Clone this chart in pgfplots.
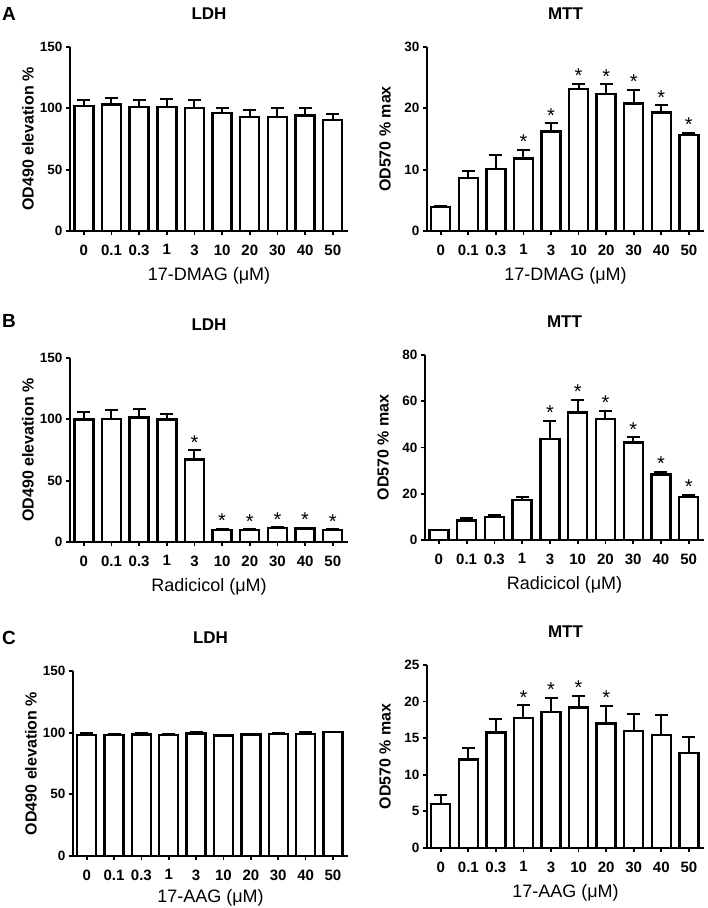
\documentclass[border=0pt]{standalone}
\usepackage{pgfplots}
\pgfplotsset{compat=1.18}
\usepackage{pgfplotstable}
\usepackage{fontspec}
\setmainfont{Liberation Sans}

% x = category index (0 ... 50 uM), ldh/mtt = mean, *e = SEM (upper only)
\pgfplotstableread{
x ldh  ldhe mtt   mtte
0 102  5    3.9   0.2
1 103  5.5  8.6   1.2
2 101  6    10.1  2.3
3 101  7    11.85 1.4
4 100.5 6.5 16.25 1.3
5 96   4.5  23.15 0.8
6 93   6    22.3  1.6
7 93   7    20.8  2.2
8 94   6    19.3  1.2
9 90.5 5    15.65 0.4
}\dataA
\pgfplotstableread{
x ldh  ldhe mtt  mtte
0 100  5.7  4.3  0.2
1 100.5 7   8.5  1.2
2 101.5 7   9.9  0.9
3 100  4    17.4 1.0
4 67.4 7.3  43.8 7.8
5 9.8  0.8  55.1 5.4
6 9.8  0.5  52.2 3.6
7 11.4 0.6  42.1 2.3
8 11.0 0.6  28.4 1.1
9 9.8  0.5  18.7 0.8
}\dataB
\pgfplotstableread{
x ldh  ldhe mtt   mtte
0 98.1 2    6.05  1.2
1 98   1    12.1  1.5
2 98.4 1.6  15.8  1.8
3 98.1 0.6  17.8  1.7
4 99.2 1    18.6  1.9
5 97.6 0.6  19.2  1.6
6 98.6 0.6  17.0  2.4
7 98.9 0.7  16.0  2.3
8 99   1.2  15.45 2.7
9 100.5 0.3 12.95 2.2
}\dataC
% significance marks, placed at the top of the error bar
\pgfplotstableread{
x y
3 13.25
4 17.55
5 23.95
6 23.9
7 23.0
8 20.5
9 16.05
}\starAm
\pgfplotstableread{
x y
4 74.7
5 10.6
6 10.3
7 12.0
8 11.6
9 10.3
}\starBl
\pgfplotstableread{
x y
4 51.6
5 60.5
6 55.8
7 44.4
8 29.5
9 19.5
}\starBm
\pgfplotstableread{
x y
3 19.5
4 20.5
5 20.8
6 19.4
}\starCm

\pgfplotsset{
  panel/.style={
    scale only axis, anchor=south west, clip=false,
    axis x line=bottom, axis y line=left,
    axis line style={-, line width=2pt},
    tick align=outside, major tick length=4pt,
    tick style={line width=1.8pt, black},
    xmin=-0.5, xmax=9.55, ymin=0,
    xtick={0,...,9},
    xticklabels={0,0.1,0.3,1,3,10,20,30,40,50},
    xticklabel style={font=\fontsize{15}{17}\selectfont\bfseries, yshift=-6pt},
    yticklabel style={font=\fontsize{13.5}{15}\selectfont\bfseries},
    /pgf/number format/assume math mode=true,
    title style={font=\fontsize{17}{20}\selectfont\bfseries,
      at={([yshift=27pt]axis description cs:0.5,1)}, anchor=center},
    xlabel style={font=\fontsize{18}{21}\selectfont,
      at={([yshift=-45pt]axis description cs:0.5,0)}, anchor=center},
    ylabel style={font=\fontsize{16}{18}\selectfont\bfseries,
      at={([xshift=-42pt]axis description cs:0,0.5)}, anchor=center},
  },
  ldh/.style={panel, title={LDH}, ylabel={OD490 elevation \%},
    ymax=150, ytick={0,50,100,150}},
  mtt/.style={panel, title={MTT}, ylabel={OD570 \% max}},
  bars/.style={ybar, bar width=19pt, fill=white, draw=black, line width=2.4pt,
    error bars/.cd, y dir=plus, y explicit,
    error bar style={line width=2pt, black},
    error mark options={rotate=90, mark size=6.5pt, line width=2pt, black}},
  stars/.style={draw=none, mark=none, nodes near coords={*},
    every node near coord/.append style={font=\fontsize{20}{22}\selectfont,
      anchor=south, inner sep=1pt}},
}

\begin{document}
\begin{tikzpicture}
\useasboundingbox (0,0) rectangle (708pt,908pt);

% row A: 17-DMAG
\begin{axis}[ldh, at={(70pt,677pt)}, width=278pt, height=184pt,
  xlabel={17-DMAG (μM)}]
\addplot[bars] table[x=x, y=ldh, y error=ldhe] {\dataA};
\end{axis}
\begin{axis}[mtt, at={(427pt,677pt)}, width=277pt, height=184pt,
  ymax=30, ytick={0,10,20,30}, xlabel={17-DMAG (μM)}]
\addplot[bars] table[x=x, y=mtt, y error=mtte] {\dataA};
\addplot[stars] table[x=x, y=y] {\starAm};
\end{axis}

% row B: Radicicol
\begin{axis}[ldh, at={(70pt,366pt)}, width=278pt, height=184pt,
  xlabel={Radicicol (μM)}]
\addplot[bars] table[x=x, y=ldh, y error=ldhe] {\dataB};
\addplot[stars] table[x=x, y=y] {\starBl};
\end{axis}
\begin{axis}[mtt, at={(425pt,368pt)}, width=279pt, height=185pt,
  ymax=80, ytick={0,20,40,60,80}, xlabel={Radicicol (μM)}]
\addplot[bars] table[x=x, y=mtt, y error=mtte] {\dataB};
\addplot[stars] table[x=x, y=y] {\starBm};
\end{axis}

% row C: 17-AAG
\begin{axis}[ldh, at={(73pt,52pt)}, width=275pt, height=185pt,
  xlabel={17-AAG (μM)},
  xlabel style={at={([yshift=-42pt]axis description cs:0.5,0)}}]
\addplot[bars] table[x=x, y=ldh, y error=ldhe] {\dataC};
\end{axis}
\begin{axis}[mtt, at={(427pt,60pt)}, width=277pt, height=183pt,
  ymax=25, ytick={0,5,10,15,20,25}, xlabel={17-AAG (μM)}]
\addplot[bars] table[x=x, y=mtt, y error=mtte] {\dataC};
\addplot[stars] table[x=x, y=y] {\starCm};
\end{axis}

% panel letters
\node[font=\fontsize{19}{22}\selectfont\bfseries] at (9pt,894pt) {A};
\node[font=\fontsize{19}{22}\selectfont\bfseries] at (9pt,587pt) {B};
\node[font=\fontsize{19}{22}\selectfont\bfseries] at (9pt,270pt) {C};
\end{tikzpicture}
\end{document}
